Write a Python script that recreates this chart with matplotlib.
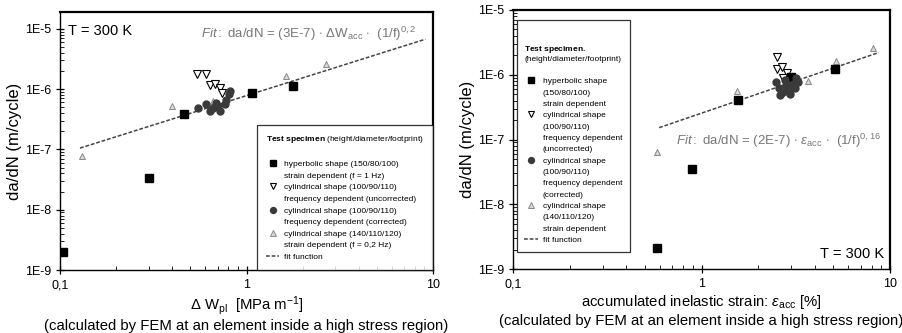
#!/usr/bin/env python3
import numpy as np
import matplotlib
matplotlib.use('Agg')
import matplotlib.pyplot as plt
from matplotlib.lines import Line2D
from matplotlib.ticker import LogLocator, FixedLocator, NullFormatter

# --- left panel: da/dN vs plastic work density ---
L_hyp_x = [0.104, 0.30, 0.46, 1.07, 1.78]
L_hyp_y = [2.0e-9, 3.4e-8, 3.9e-7, 0.87e-6, 1.12e-6]
L_unc_x = [0.54, 0.61, 0.64, 0.68, 0.72, 0.74]
L_unc_y = [1.8e-6, 1.8e-6, 1.15e-6, 1.2e-6, 1.05e-6, 0.85e-6]
L_cor_x = [0.55, 0.61, 0.64, 0.66, 0.69, 0.70, 0.72, 0.77, 0.78, 0.81, 0.82]
L_cor_y = [0.48e-6, 0.56e-6, 0.43e-6, 0.48e-6, 0.59e-6, 0.52e-6, 0.43e-6,
           0.56e-6, 0.66e-6, 0.83e-6, 0.93e-6]
L_cyl_x = [0.131, 0.40, 0.66, 1.63, 2.67]
L_cyl_y = [7.8e-8, 0.52e-6, 0.63e-6, 1.64e-6, 2.6e-6]
L_fit = (7.8e-7, 0.975, 0.128, 9.1)   # coeff, exponent, x from, x to

# --- right panel: da/dN vs accumulated inelastic strain ---
R_hyp_x = [0.58, 0.89, 1.56, 2.99, 5.1]
R_hyp_y = [2.1e-9, 3.5e-8, 0.41e-6, 0.93e-6, 1.24e-6]
R_unc_x = [2.52, 2.52, 2.68, 2.85, 2.71]
R_unc_y = [1.9e-6, 1.24e-6, 1.33e-6, 1.07e-6, 0.9e-6]
R_cor_x = [2.49, 2.58, 2.71, 2.80, 2.92, 3.04, 3.14, 3.26, 2.61, 2.96, 2.77, 3.19]
R_cor_y = [0.78e-6, 0.63e-6, 0.55e-6, 0.70e-6, 0.59e-6, 0.73e-6, 0.63e-6,
           0.78e-6, 0.49e-6, 0.51e-6, 0.84e-6, 0.9e-6]
R_cyl_x = [0.58, 1.54, 3.69, 5.2, 8.1]
R_cyl_y = [6.3e-8, 0.57e-6, 0.81e-6, 1.64e-6, 2.6e-6]
R_fit = (2.55e-7, 0.996, 0.596, 8.7)

Y_TICKS = [1e-9, 1e-8, 1e-7, 1e-6, 1e-5]
Y_LABELS = ['1E-9', '1E-8', '1E-7', '1E-6', '1E-5']
X_TICKS = [0.1, 1, 10]
X_LABELS = ['0,1', '1', '10']

SUB = '(calculated by FEM at an element inside a high stress region)'

plt.rcParams['font.family'] = ['Liberation Sans', 'DejaVu Sans']
plt.rcParams['mathtext.fontset'] = 'custom'
plt.rcParams['mathtext.rm'] = 'Liberation Sans'
plt.rcParams['mathtext.it'] = 'Liberation Sans:italic'
plt.rcParams['mathtext.bf'] = 'Liberation Sans:bold'

fig = plt.figure(figsize=(9.02, 3.33), dpi=100)
fig.patch.set_facecolor('white')

axL = fig.add_axes([60/902, 63/333, 373/902, 258/333])
axR = fig.add_axes([513/902, 64/333, 377/902, 259/333])

sq = dict(marker='s', ms=5.5, color='black', ls='none')
dn = dict(marker='v', ms=5.5, mfc='white', mec='black', mew=0.8, ls='none')
ci = dict(marker='o', ms=5, color='#3a3a3a', ls='none')
up = dict(marker='^', ms=4.5, mfc='#d8d8d8', mec='#888888', mew=0.7, ls='none')
fit_style = dict(color='#444444', ls=(0, (2.5, 1.2)), lw=1.1)


def draw(ax, hx, hy, ux, uy, cx, cy, tx, ty, fit):
    ax.plot(hx, hy, **sq, zorder=4)
    ax.plot(ux, uy, **dn, zorder=3)
    ax.plot(cx, cy, **ci, zorder=4)
    ax.plot(tx, ty, **up, zorder=3)
    k, n, x0, x1 = fit
    xs = np.logspace(np.log10(x0), np.log10(x1), 50)
    ax.plot(xs, k * xs ** n, **fit_style, zorder=2)
    ax.set_xscale('log')
    ax.set_yscale('log')
    ax.set_xlim(0.1, 10)
    ax.xaxis.set_major_locator(FixedLocator(X_TICKS))
    ax.set_xticklabels(X_LABELS)
    ax.xaxis.set_minor_locator(LogLocator(base=10, subs=np.arange(2, 10)))
    ax.xaxis.set_minor_formatter(NullFormatter())
    ax.yaxis.set_major_locator(FixedLocator(Y_TICKS))
    ax.set_yticklabels(Y_LABELS)
    ax.yaxis.set_minor_locator(LogLocator(base=10, subs=np.arange(2, 10), numticks=20))
    ax.yaxis.set_minor_formatter(NullFormatter())
    ax.tick_params(which='major', direction='inout', length=6, width=0.9, labelsize=9)
    ax.tick_params(which='minor', direction='in', length=3, width=0.6)
    for s in ax.spines.values():
        s.set_linewidth(1.0)
    for s in ['top', 'right']:
        ax.spines[s].set_linewidth(1.6)
    ax.set_ylabel('da/dN (m/cycle)', fontsize=12, labelpad=2)


draw(axL, L_hyp_x, L_hyp_y, L_unc_x, L_unc_y, L_cor_x, L_cor_y, L_cyl_x, L_cyl_y, L_fit)
draw(axR, R_hyp_x, R_hyp_y, R_unc_x, R_unc_y, R_cor_x, R_cor_y, R_cyl_x, R_cyl_y, R_fit)
axL.set_ylim(1e-9, 1.9e-5)
axR.set_ylim(1e-9, 1e-5)

axL.set_xlabel(r'$\Delta$ W$_{\rm pl}$  [MPa m$^{-1}$]' + '\n' + SUB,
               fontsize=10.7, labelpad=2, linespacing=1.25)
axR.set_xlabel(r'accumulated inelastic strain: $\varepsilon_{\rm acc}$ [%]' + '\n' + SUB,
               fontsize=10.7, labelpad=2, linespacing=1.25)

axL.text(0.022, 0.955, 'T = 300 K', transform=axL.transAxes, fontsize=10.5, va='top')
axR.text(0.985, 0.03, 'T = 300 K', transform=axR.transAxes, fontsize=10.5, ha='right', va='bottom')

axL.text(0.955, 0.95, r'$\mathbf{\mathit{Fit:}}$ da/dN = (3E-7) $\cdot$ $\Delta$W$_{\rm acc}$ $\cdot$  (1/f)$^{0,2}$',
         transform=axL.transAxes, fontsize=9.5, color='#777777', ha='right', va='top')
axR.text(0.975, 0.495, r'$\mathbf{\mathit{Fit:}}$ da/dN = (2E-7) $\cdot$ $\varepsilon_{\rm acc}$ $\cdot$  (1/f)$^{0,16}$',
         transform=axR.transAxes, fontsize=9.5, color='#777777', ha='right', va='center')

blank = Line2D([], [], ls='none', marker='none')
fit_h = Line2D([], [], **fit_style)

handlesL = [blank, Line2D([], [], **sq), blank, Line2D([], [], **dn), blank,
            Line2D([], [], **ci), blank, Line2D([], [], **up), blank, fit_h]
labelsL = ['', 'hyperbolic shape (150/80/100)', 'strain dependent (f = 1 Hz)',
           'cylindrical shape (100/90/110)', 'frequency dependent (uncorrected)',
           'cylindrical shape (100/90/110)', 'frequency dependent (corrected)',
           'cylindrical shape (140/110/120)', 'strain dependent (f = 0,2 Hz)',
           'fit function']
legL = axL.legend(handlesL, labelsL, loc='lower right', bbox_to_anchor=(1.0, 0.0),
                  fontsize=6, title=r'$\mathbf{Test\ specimen}$ (height/diameter/footprint)',
                  title_fontsize=6, frameon=True, fancybox=False, edgecolor='black',
                  handlelength=1.6, handletextpad=0.6, labelspacing=0.45,
                  borderpad=1.1, borderaxespad=0.0, markerscale=0.85)
legL.get_frame().set_linewidth(0.9)
legL._legend_box.align = 'left'

handlesR = [blank, Line2D([], [], **sq), blank, blank, Line2D([], [], **dn), blank, blank, blank,
            Line2D([], [], **ci), blank, blank, blank, Line2D([], [], **up), blank, blank, fit_h]
labelsR = ['', 'hyperbolic shape', '(150/80/100)', 'strain dependent',
           'cylindrical shape', '(100/90/110)', 'frequency dependent', '(uncorrected)',
           'cylindrical shape', '(100/90/110)', 'frequency dependent', '(corrected)',
           'cylindrical shape', '(140/110/120)', 'strain dependent', 'fit function']
legR = axR.legend(handlesR, labelsR, loc='upper left', bbox_to_anchor=(0.01, 0.962),
                  fontsize=6, title='\n\n' + r'$\mathbf{Test\ specimen.}$' + '\n(height/diameter/footprint)',
                  title_fontsize=6, frameon=True, fancybox=False, edgecolor='black',
                  handlelength=1.6, handletextpad=0.6, labelspacing=0.42,
                  borderpad=0.9, borderaxespad=0.0, markerscale=0.85)
legR.get_frame().set_linewidth(0.9)
legR._legend_box.align = 'left'

fig.savefig('out.png', dpi=100)
